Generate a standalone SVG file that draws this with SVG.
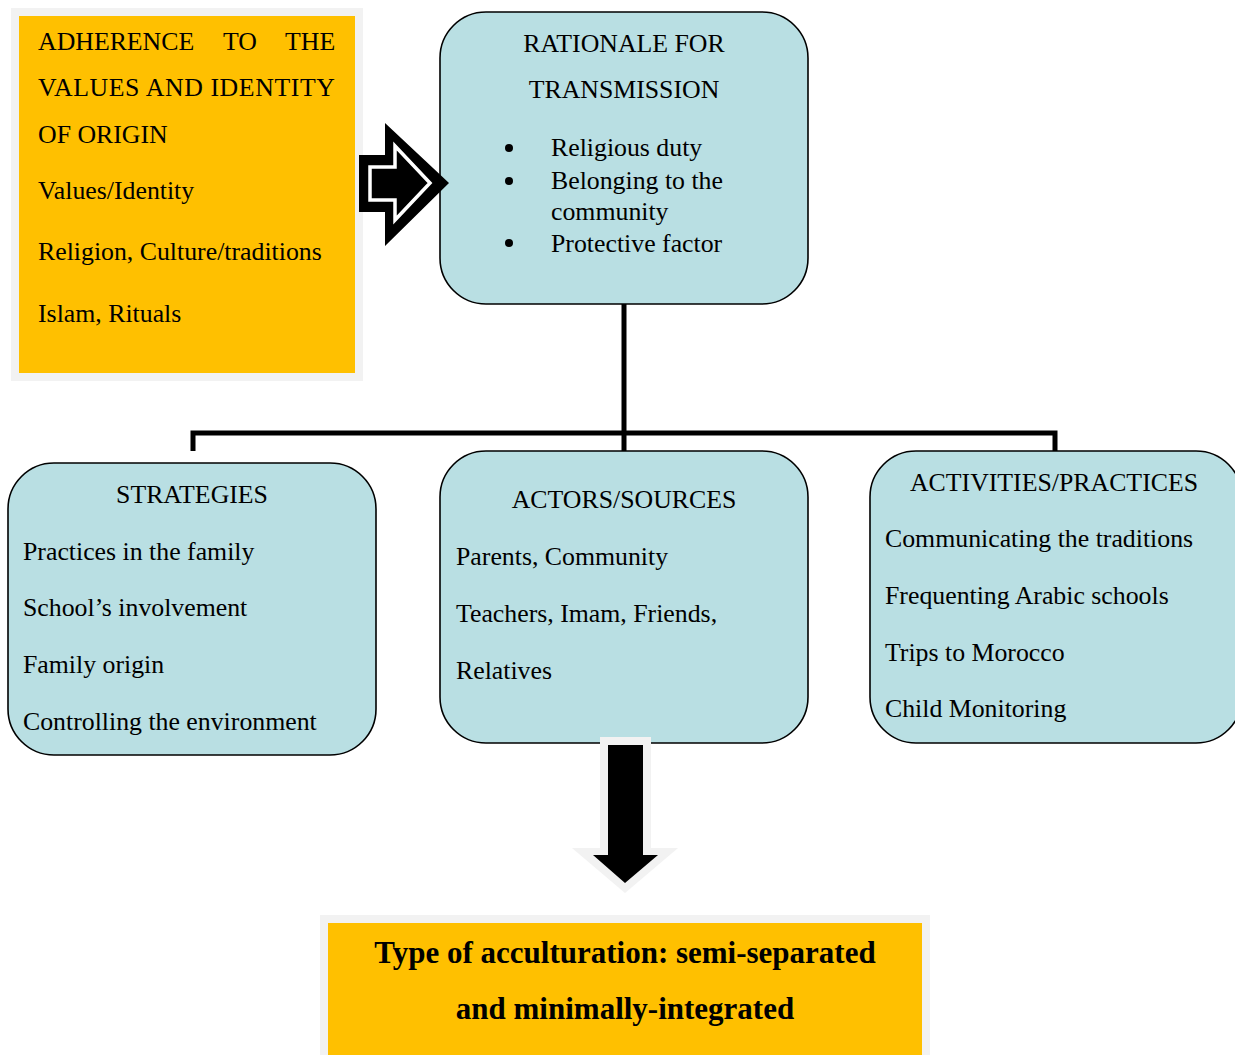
<svg xmlns="http://www.w3.org/2000/svg" width="1235" height="1055" viewBox="0 0 1235 1055">
<style>
.t{font-family:"Liberation Serif","Times New Roman",serif;font-size:25.8px;fill:#000}
.c{text-anchor:middle}
.b{font-weight:bold;font-size:31px}
.box{fill:#b9dfe3;stroke:#000;stroke-width:1.6}
.org{fill:#ffc000}
.frame{fill:#f2f2f2}
.con{stroke:#000;stroke-width:5;fill:none}
</style>
<rect width="1235" height="1055" fill="#fff"/>

<g id="origin">
<rect class="frame" x="11" y="8" width="352" height="373"/>
<rect class="org" x="19" y="16" width="336" height="357"/>
<text class="t" x="38" y="50">ADHERENCE</text>
<text class="t" x="223" y="50">TO</text>
<text class="t" x="285" y="50">THE</text>
<text class="t" x="38" y="96" textLength="297" lengthAdjust="spacing">VALUES AND IDENTITY</text>
<text class="t" x="38" y="143">OF ORIGIN</text>
<text class="t" x="38" y="199">Values/Identity</text>
<text class="t" x="38" y="260">Religion, Culture/traditions</text>
<text class="t" x="38" y="322">Islam, Rituals</text>
</g>

<g id="rationale">
<rect class="box" x="440" y="12" width="368" height="292" rx="46"/>
<text class="t c" x="624" y="52">RATIONALE FOR</text>
<text class="t c" x="624" y="98">TRANSMISSION</text>
<circle cx="509" cy="148" r="4"/>
<circle cx="509" cy="181" r="4"/>
<circle cx="509" cy="243" r="4"/>
<text class="t" x="551" y="156">Religious duty</text>
<text class="t" x="551" y="189">Belonging to the</text>
<text class="t" x="551" y="220">community</text>
<text class="t" x="551" y="252">Protective factor</text>
</g>

<g id="arrow-right">
<polygon points="359,155 385,155 385,123 449,183 385,246 385,212 359,212" fill="#000"/>
<polygon points="370,167 395,167 395,146 430,183 395,220 395,200 370,200" fill="#000" stroke="#fff" stroke-width="3.5"/>
</g>

<g id="connectors">
<path class="con" d="M624,304 V451 M193,451 V433 H1055 V452"/>
</g>

<g id="strategies">
<rect class="box" x="8" y="463" width="368" height="292" rx="46"/>
<text class="t c" x="192" y="503">STRATEGIES</text>
<text class="t" x="23" y="560">Practices in the family</text>
<text class="t" x="23" y="616">School’s involvement</text>
<text class="t" x="23" y="673">Family origin</text>
<text class="t" x="23" y="730">Controlling the environment</text>
</g>

<g id="actors">
<rect class="box" x="440" y="451" width="368" height="292" rx="46"/>
<text class="t c" x="624" y="508">ACTORS/SOURCES</text>
<text class="t" x="456" y="565">Parents, Community</text>
<text class="t" x="456" y="622">Teachers, Imam, Friends,</text>
<text class="t" x="456" y="679">Relatives</text>
</g>

<g id="activities">
<rect class="box" x="870" y="451" width="372" height="292" rx="46"/>
<text class="t c" x="1054" y="491">ACTIVITIES/PRACTICES</text>
<text class="t" x="885" y="547">Communicating the traditions</text>
<text class="t" x="885" y="604">Frequenting Arabic schools</text>
<text class="t" x="885" y="661">Trips to Morocco</text>
<text class="t" x="885" y="717">Child Monitoring</text>
</g>

<g id="arrow-down">
<polygon points="600,737 651,737 651,848 678,848 625,893 572,848 600,848" fill="#f2f2f2"/>
<polygon points="608,745 643,745 643,855 658,855 625,883 593,855 608,855" fill="#000"/>
</g>

<g id="acculturation">
<rect class="frame" x="320" y="915" width="610" height="140"/>
<rect class="org" x="328" y="923" width="594" height="132"/>
<text class="t c b" x="625" y="963">Type of acculturation: semi-separated</text>
<text class="t c b" x="625" y="1019">and minimally-integrated</text>
</g>
</svg>
